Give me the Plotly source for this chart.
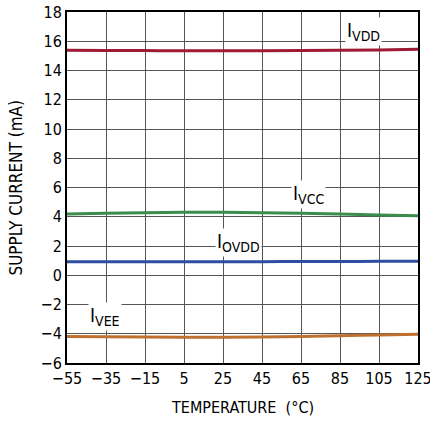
import plotly.graph_objects as go

temps = [-55, -35, -15, 5, 25, 45, 65, 85, 105, 125]
i_vdd = [15.38, 15.37, 15.36, 15.35, 15.35, 15.35, 15.36, 15.38, 15.41, 15.45]
i_vcc = [4.18, 4.24, 4.28, 4.30, 4.30, 4.28, 4.24, 4.18, 4.12, 4.06]
i_ovdd = [0.92, 0.92, 0.93, 0.93, 0.93, 0.93, 0.94, 0.94, 0.95, 0.95]
i_vee = [-4.18, -4.21, -4.23, -4.24, -4.24, -4.22, -4.18, -4.13, -4.08, -4.03]

series = [
    ("IVDD", i_vdd, "#9e1a35"),
    ("IVCC", i_vcc, "#3b8d4e"),
    ("IOVDD", i_ovdd, "#2e4ea3"),
    ("IVEE", i_vee, "#bf6f2e"),
]

font_family = "DejaVu Sans Condensed"

fig = go.Figure()
for name, ys, col in series:
    fig.add_trace(go.Scatter(x=temps, y=ys, mode="lines", line=dict(color=col, width=3, shape="spline"),
                             name=name, showlegend=False))

def lab(sub):
    return "I<sub><span style='font-size:14px'>%s</span></sub>" % sub

labels = [
    (lab("VDD"), 97, 15.68),
    (lab("VCC"), 68.6, 4.55),
    (lab("OVDD"), 33.2, 1.25),
    (lab("VEE"), -35.5, -3.8),
]
for txt, x, y in labels:
    fig.add_annotation(x=x, y=y, text=txt, showarrow=False, bgcolor="white",
                       font=dict(size=19, color="black", family=font_family), borderpad=1,
                       xanchor="center", yanchor="bottom")

fig.add_annotation(xref="paper", yref="paper", x=0.5, y=-0.128, text="TEMPERATURE  (°C)",
                   showarrow=False, font=dict(size=16, color="black", family=font_family),
                   xanchor="center", yanchor="middle")
fig.add_annotation(xref="paper", yref="paper", x=-0.148, y=0.5, text="SUPPLY CURRENT (mA)",
                   showarrow=False, textangle=-90, font=dict(size=17, color="black", family=font_family),
                   xanchor="center", yanchor="middle")

fig.update_layout(
    width=430, height=421,
    margin=dict(l=67, r=12, t=12, b=58),
    paper_bgcolor="white", plot_bgcolor="white",
    font=dict(family=font_family, color="black", size=16),
)
fig.update_xaxes(range=[-55, 125], tickmode="array", tickvals=temps, ticktext=[str(t).replace("-", "\u2212") for t in temps],
                 showgrid=True, gridcolor="#555555", gridwidth=1, zeroline=False, automargin=False,
                 showline=True, linecolor="black", linewidth=2, mirror=True, ticks="",
                 ticklabeloverflow="allow", tickfont=dict(size=16))
yt = list(range(-6, 19, 2))
fig.update_yaxes(range=[-6, 18], tickmode="array", tickvals=yt, ticktext=[str(t).replace("-", "\u2212") for t in yt],
                 showgrid=True, gridcolor="#555555", gridwidth=1, zeroline=False, automargin=False,
                 showline=True, linecolor="black", linewidth=2, mirror=True, ticks="",
                 ticklabeloverflow="allow", tickfont=dict(size=16))

fig.write_html("out.html", config={"displayModeBar": False},
               post_script="document.body.style.margin='0px';")
